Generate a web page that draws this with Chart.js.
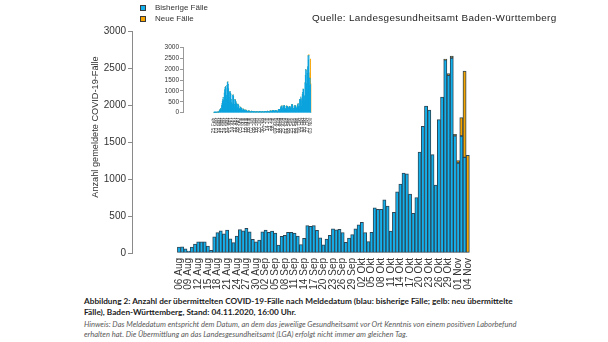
<!DOCTYPE html>
<html>
<head>
<meta charset="utf-8">
<script src="https://cdn.jsdelivr.net/npm/chart.js@4.4.1/dist/chart.umd.min.js"></script>
<style>
  html, body { margin: 0; padding: 0; background: #fff; }
  body { width: 608px; height: 342px; position: relative; overflow: hidden;
         font-family: "Liberation Sans", Arial, sans-serif; }
  #main { position: absolute; left: 0; top: 0; }
  #inset { position: absolute; left: 150px; top: 40px; }
  .abs { position: absolute; white-space: nowrap; }
  .sw { position: absolute; width: 4px; height: 4px; border: 1px solid #3a3a3a; }
  .leg { font-size: 8px; line-height: 10px; color: #333; }
  .source { font-size: 10px; line-height: 12px; letter-spacing: 0.35px; color: #1e1e1e; }
  .cap { font-family: Lato, "Open Sans", sans-serif; font-weight: bold; font-size: 8.6px;
         line-height: 11px; color: #1c1c1c; }
  .note { font-family: Lato, "Open Sans", sans-serif; font-style: italic; font-size: 7.6px;
          line-height: 10px; color: #5a5a5a; }
</style>
</head>
<body>
<canvas id="main" width="608" height="296"></canvas>
<canvas id="inset" width="200" height="100"></canvas>

<div class="sw" style="left:140px; top:5px; background:#12b0ec"></div>
<div class="abs leg" style="left:155px; top:3px">Bisherige Fälle</div>
<div class="sw" style="left:140px; top:16px; background:#f7a400"></div>
<div class="abs leg" style="left:155px; top:14px">Neue Fälle</div>

<div id="source" class="abs source" style="left:312px; top:12px">Quelle: Landesgesundheitsamt Baden-Württemberg</div>

<div id="cap1" class="abs cap" style="left:84px; top:296px">Abbildung 2: Anzahl der übermittelten COVID-19-Fälle nach Meldedatum (blau: bisherige Fälle; gelb: neu übermittelte</div>
<div id="cap2" class="abs cap" style="left:84px; top:307px">Fälle), Baden-Württemberg, Stand: 04.11.2020, 16:00 Uhr.</div>
<div id="note1" class="abs note" style="left:84px; top:320px">Hinweis: Das Meldedatum entspricht dem Datum, an dem das jeweilige Gesundheitsamt vor Ort Kenntnis von einem positiven Laborbefund</div>
<div id="note2" class="abs note" style="left:84px; top:330px">erhalten hat. Die Übermittlung an das Landesgesundheitsamt (LGA) erfolgt nicht immer am gleichen Tag.</div>

<script>
// Reporting days shown in the main chart (06 Aug – 04 Nov 2020)
const days = [
  "06 Aug","07 Aug","08 Aug","09 Aug","10 Aug","11 Aug","12 Aug","13 Aug","14 Aug","15 Aug",
  "16 Aug","17 Aug","18 Aug","19 Aug","20 Aug","21 Aug","22 Aug","23 Aug","24 Aug","25 Aug",
  "26 Aug","27 Aug","28 Aug","29 Aug","30 Aug","31 Aug","01 Sep","02 Sep","03 Sep","04 Sep",
  "05 Sep","06 Sep","07 Sep","08 Sep","09 Sep","10 Sep","11 Sep","12 Sep","13 Sep","14 Sep",
  "15 Sep","16 Sep","17 Sep","18 Sep","19 Sep","20 Sep","21 Sep","22 Sep","23 Sep","24 Sep",
  "25 Sep","26 Sep","27 Sep","28 Sep","29 Sep","30 Sep","01 Okt","02 Okt","03 Okt","04 Okt",
  "05 Okt","06 Okt","07 Okt","08 Okt","09 Okt","10 Okt","11 Okt","12 Okt","13 Okt","14 Okt",
  "15 Okt","16 Okt","17 Okt","18 Okt","19 Okt","20 Okt","21 Okt","22 Okt","23 Okt","24 Okt",
  "25 Okt","26 Okt","27 Okt","28 Okt","29 Okt","30 Okt","31 Okt","01 Nov","02 Nov","03 Nov",
  "04 Nov"
];

// Cases already known before the current report ("bisherige Fälle")
const knownCases = [
  80, 85, 58, 27, 80, 120, 150, 150, 150, 95,
  35, 220, 275, 300, 260, 310, 190, 140, 230, 315,
  300, 335, 285, 185, 150, 175, 285, 310, 280, 295,
  270, 107, 225, 240, 280, 280, 270, 228, 115, 197,
  370, 360, 370, 305, 205, 112, 188, 240, 326, 312,
  320, 277, 143, 200, 250, 326, 380, 415, 277, 156,
  281, 612, 590, 590, 720, 634, 295, 550, 826, 933,
  1080, 1070, 795, 535, 750, 1365, 1712, 1986, 1932, 1329,
  919, 1802, 2108, 2610, 2400, 2635, 1585, 1216, 1581, 1293,
  0
];

// Cases newly transmitted with the current report ("neue Fälle")
const newCases = [
  0, 0, 0, 0, 0, 0, 0, 0, 0, 0,
  0, 0, 0, 0, 0, 0, 0, 0, 0, 0,
  0, 0, 0, 0, 0, 0, 0, 0, 0, 0,
  0, 0, 0, 0, 0, 0, 0, 0, 0, 0,
  0, 0, 0, 0, 0, 0, 0, 0, 0, 0,
  0, 0, 0, 0, 0, 0, 0, 0, 0, 0,
  0, 0, 0, 0, 0, 0, 0, 0, 0, 0,
  0, 0, 0, 0, 0, 0, 0, 0, 0, 0,
  0, 0, 0, 10, 25, 27, 18, 32, 248, 1166,
  1320
];

// Daily cases 25 Feb – 05 Aug 2020 (earlier part of the overview chart)
const springCases = [
  1, 2, 3, 6, 9, 3,
  12, 16, 22, 28, 32, 26, 14,
  60, 85, 115, 150, 190, 160, 90,
  330, 420, 520, 600, 700, 560, 380,
  900, 1050, 1150, 1200, 1100, 800, 600,
  1250, 1380, 1420, 1300, 1100, 700, 500,
  950, 980, 900, 850, 600, 450, 350,
  400, 800, 820, 750, 600, 380, 280,
  600, 580, 520, 450, 400, 250, 180,
  400, 380, 330, 300, 200, 150, 100,
  260, 240, 210, 190, 170, 110, 70,
  180, 160, 140, 120, 110, 70, 50,
  130, 110, 100, 60, 80, 50, 35,
  90, 80, 75, 70, 60, 40, 30,
  40, 70, 65, 55, 55, 35, 25,
  60, 55, 50, 40, 45, 30, 20,
  55, 50, 45, 45, 40, 25, 20,
  60, 60, 55, 50, 45, 30, 20,
  55, 50, 50, 45, 45, 30, 20,
  55, 60, 55, 50, 50, 35, 25,
  65, 70, 60, 55, 55, 40, 25,
  75, 80, 85, 80, 70, 50, 30,
  95, 100, 110, 100, 90, 60, 35,
  95, 105, 110
];

// Weekly date labels of the overview chart (from 25 Feb)
const overviewTicks = [
  "25 Feb","03 Mär","10 Mär","17 Mär","24 Mär","31 Mär","07 Apr","14 Apr","21 Apr","28 Apr",
  "05 Mai","12 Mai","19 Mai","26 Mai","02 Jun","09 Jun","16 Jun","23 Jun","30 Jun","07 Jul",
  "14 Jul","21 Jul","28 Jul","04 Aug","11 Aug","18 Aug","25 Aug","01 Sep","08 Sep","15 Sep",
  "22 Sep","29 Sep","06 Okt","13 Okt","20 Okt","27 Okt","03 Nov"
];

const yTicks = [0, 500, 1000, 1500, 2000, 2500, 3000];

const BLUE = '#12b0ec';
const ORANGE = '#f7a400';
const EDGE = '#2c4656';
const FONT = '"Liberation Sans", Arial, sans-serif';

const toPoints = arr => arr.map((v, i) => ({ x: i, y: v }));

// Rotated y-axis title of the main chart
const yTitle = {
  id: 'yTitle',
  afterDraw(chart) {
    const c = chart.ctx;
    c.save();
    c.translate(95, 127);
    c.rotate(-Math.PI / 2);
    c.font = '9.2px ' + FONT;
    c.fillStyle = '#333';
    c.textAlign = 'center';
    c.textBaseline = 'middle';
    c.fillText('Anzahl gemeldete COVID-19-Fälle', 0, 0);
    c.restore();
  }
};

// Vertical date labels hanging below the x axis, read bottom to top
function verticalLabels(labels, step, size, gap, color) {
  return {
    id: 'verticalLabels',
    afterDraw(chart) {
      const xs = chart.scales.x, c = chart.ctx, top = chart.chartArea.bottom + gap;
      c.save();
      c.font = size + 'px ' + FONT;
      c.fillStyle = color;
      c.textAlign = 'right';
      c.textBaseline = 'middle';
      labels.forEach((lab, k) => {
        c.save();
        c.translate(xs.getPixelForValue(k * step), top);
        c.rotate(-Math.PI / 2);
        c.fillText(lab, 0, 0);
        c.restore();
      });
      c.restore();
    }
  };
}

const mainTickLabels = days.filter((d, i) => i % 3 === 0);

new Chart(document.getElementById('main'), {
  type: 'bar',
  data: {
    datasets: [
      { label: 'Bisherige Fälle', data: toPoints(knownCases), backgroundColor: BLUE,
        borderColor: EDGE, borderWidth: 1, borderSkipped: false,
        barPercentage: 1, categoryPercentage: 1 },
      { label: 'Neue Fälle', data: toPoints(newCases), backgroundColor: ORANGE,
        borderColor: EDGE, borderWidth: 1, borderSkipped: false,
        barPercentage: 1, categoryPercentage: 1 }
    ]
  },
  options: {
    responsive: false,
    animation: false,
    layout: { padding: { left: 0, top: 31, right: 88, bottom: 0 } },
    plugins: { legend: { display: false }, tooltip: { enabled: false } },
    scales: {
      x: {
        type: 'linear', stacked: true, min: -4.57, max: 96.2,
        grid: { display: false }, border: { display: false },
        afterFit: s => { s.height = 43; },
        ticks: { display: false }
      },
      y: {
        stacked: true, min: 0, max: 3000,
        afterBuildTicks: s => { s.ticks = yTicks.map(v => ({ value: v })); },
        afterFit: s => { s.width = 132; },
        grid: { drawOnChartArea: false, drawTicks: true, tickLength: 4, color: '#8a8a8a' },
        border: { color: '#8a8a8a' },
        ticks: { padding: 2, font: { size: 10, family: FONT }, color: '#333', callback: v => String(v) }
      }
    }
  },
  plugins: [yTitle, verticalLabels(mainTickLabels, 3, 10, 5, '#333')]
});

// Overview chart of the whole period
const overviewKnown = springCases.concat(knownCases);
const overviewNew = springCases.map(() => 0).concat(newCases);

new Chart(document.getElementById('inset'), {
  type: 'bar',
  data: {
    datasets: [
      { data: toPoints(overviewKnown), backgroundColor: '#0ba3de', borderWidth: 0,
        barPercentage: 1, categoryPercentage: 1 },
      { data: toPoints(overviewNew), backgroundColor: ORANGE, borderWidth: 0,
        barPercentage: 1, categoryPercentage: 1 }
    ]
  },
  options: {
    responsive: false,
    animation: false,
    layout: { padding: { left: 0, top: 7.3, right: 10, bottom: 0 } },
    plugins: { legend: { display: false }, tooltip: { enabled: false } },
    scales: {
      x: {
        type: 'linear', stacked: true, min: -12.7, max: 261,
        grid: { display: false }, border: { display: false },
        afterFit: s => { s.height = 27.3; },
        ticks: { display: false }
      },
      y: {
        stacked: true, min: 0, max: 3000,
        afterBuildTicks: s => { s.ticks = yTicks.map(v => ({ value: v })); },
        afterFit: s => { s.width = 33; },
        grid: { drawOnChartArea: false, drawTicks: true, tickLength: 3, color: '#999' },
        border: { color: '#999' },
        ticks: { padding: 1, font: { size: 6.5, family: FONT }, color: '#333', callback: v => String(v) }
      }
    }
  },
  plugins: [verticalLabels(overviewTicks, 7, 5, 5, '#444')]
});

// Size the text blocks so each line spans its measured width
function fitText(ids, width) {
  const first = document.getElementById(ids[0]);
  const fs = parseFloat(getComputedStyle(first).fontSize);
  const size = fs * width / first.getBoundingClientRect().width;
  ids.forEach(id => { document.getElementById(id).style.fontSize = size + 'px'; });
}
fitText(['source'], 245);
fitText(['cap1', 'cap2'], 429);
fitText(['note1', 'note2'], 433);
</script>
</body>
</html>
